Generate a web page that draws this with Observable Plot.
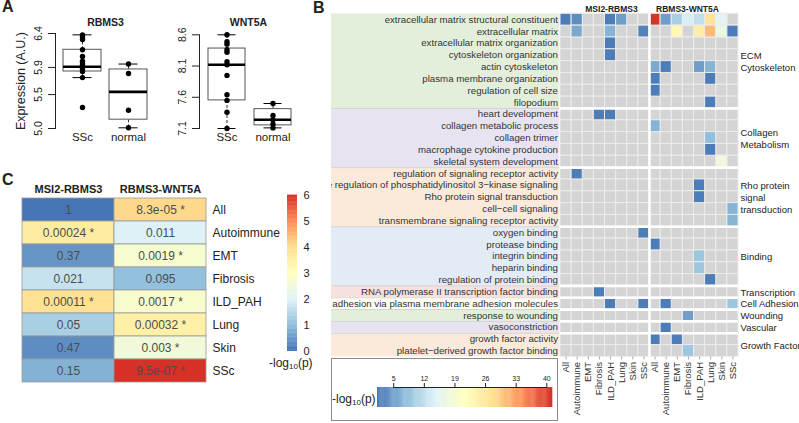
<!DOCTYPE html>
<html><head><meta charset="utf-8">
<script src="https://cdn.jsdelivr.net/npm/d3@7"></script>
<script src="https://cdn.jsdelivr.net/npm/@observablehq/plot@0.6"></script>
<style>
html,body{margin:0;padding:0;background:#fff;}
#fig{position:relative;width:799px;height:423px;overflow:hidden;background:#fff;font-family:"Liberation Sans",Arial,Helvetica,sans-serif;color:#222;}
.letter{position:absolute;font-weight:bold;font-size:16px;line-height:1;}
.lab{position:absolute;font-size:12px;line-height:1;white-space:nowrap;color:#222;}
.lab sub{font-size:8px;vertical-align:baseline;position:relative;top:2px;}
.lbox{position:absolute;outline:1px solid #8a8a8a;outline-offset:-1px;background:#fff;}
</style></head><body><div id="fig"></div>
<script>
// ---------------- Panel A data ----------------
const boxGroups = ["SSc", "normal"];
const rbms3SSc = [6.38, 6.35, 6.31, 6.16, 6.06, 5.99, 5.95, 5.92, 5.88, 5.84, 5.75, 5.31];
const rbms3Normal = [5.95, 5.81, 5.27, 5.01];
const rbms3Lo = [5.75, 5.01], rbms3Q1 = [5.84, 5.13], rbms3Med = [5.91, 5.54], rbms3Q3 = [6.16, 5.87], rbms3Hi = [6.38, 5.95];
const rbms3Ticks = [5.0, 5.5, 5.9, 6.4];
const wnt5aSSc = [8.60, 8.49, 8.45, 8.36, 8.32, 8.17, 8.12, 7.95, 7.64, 7.55, 7.36, 7.10];
const wnt5aNormal = [7.50, 7.31, 7.24, 7.17, 7.11];
const wnt5aLo = [7.10, 7.11], wnt5aQ1 = [7.55, 7.15], wnt5aMed = [8.12, 7.24], wnt5aQ3 = [8.38, 7.41], wnt5aHi = [8.60, 7.50];
const wnt5aTicks = [7.1, 7.6, 8.1, 8.6];
const yTitleA = "Expression (A.U.)";

// ---------------- Panel C data ----------------
const cRows = ["All", "Autoimmune", "EMT", "Fibrosis", "ILD_PAH", "Lung", "Skin", "SSc"];
const cPairs = ["MSI2-RBMS3", "RBMS3-WNT5A"];
const pMSI2RBMS3 = [1, 0.00024, 0.37, 0.021, 0.00011, 0.05, 0.47, 0.15];
const pRBMS3WNT5A = [8.3e-05, 0.011, 0.0019, 0.095, 0.0017, 0.00032, 0.003, 9.5e-07];
const sigCutoff = 0.01;
const cLegendTicks = [0, 1, 2, 3, 4, 5, 6];

// ---------------- Panel B data ----------------
const bCols = ["All", "Autoimmune", "EMT", "Fibrosis", "ILD_PAH", "Lung", "Skin", "SSc"];
const bBlocks = ["MSI2-RBMS3", "RBMS3-WNT5A"];
const bRows = [
  "extracellular matrix structural constituent", "extracellular matrix", "extracellular matrix organization",
  "cytoskeleton organization", "actin cytoskeleton", "plasma membrane organization", "regulation of cell size", "filopodium",
  "heart development", "collagen metabolic process", "collagen trimer", "macrophage cytokine production", "skeletal system development",
  "regulation of signaling receptor activity", "positive regulation of phosphatidylinositol 3\u2212kinase signaling",
  "Rho protein signal transduction", "cell\u2212cell signaling", "transmembrane signaling receptor activity",
  "oxygen binding", "protease binding", "integrin binding", "heparin binding", "regulation of protein binding",
  "RNA polymerase II transcription factor binding",
  "cell\u2212cell adhesion via plasma membrane adhesion molecules",
  "response to wounding",
  "vasoconstriction",
  "growth factor activity", "platelet\u2212derived growth factor binding"
];
const bGroups = ["ECM\nCytoskeleton", "Collagen\nMetabolism", "Rho protein\nsignal\ntransduction", "Binding",
  "Transcription", "Cell Adhesion", "Wounding", "Vascular", "Growth Factor"];
const bGroupSizes = [8, 5, 5, 5, 1, 1, 1, 1, 2];
const _ = null;
// -log10(p) per GO term (rows) x dataset (columns); null = not significant
const bMSI2RBMS3 = [
  [2, 3.5, _, _, 2, 5, _, _],
  [_, 6, _, _, 7, _, _, 2.5],
  [_, _, _, _, 2, _, _, _],
  [_, _, _, _, 2, _, _, _],
  [_, _, _, _, _, _, _, _],
  [_, _, _, _, _, _, _, _],
  [_, _, _, _, _, _, _, _],
  [_, _, _, _, _, _, _, _],
  [_, _, _, 2, 2, _, _, _],
  [_, _, _, _, _, _, _, _],
  [_, _, _, _, _, _, _, _],
  [_, _, _, _, _, _, _, _],
  [_, _, _, _, _, _, _, _],
  [_, 2, _, _, _, _, _, _],
  [_, _, _, _, _, _, _, _],
  [_, _, _, _, _, _, _, _],
  [_, _, _, _, _, _, _, _],
  [_, _, _, _, _, _, _, _],
  [_, _, _, _, _, _, _, 2],
  [_, _, _, _, _, _, _, _],
  [_, _, _, _, _, _, _, _],
  [_, _, _, _, _, _, _, _],
  [_, _, _, _, _, _, _, _],
  [_, _, _, 2, _, _, _, _],
  [_, _, _, _, 2, _, _, 2],
  [_, _, _, _, _, _, _, _],
  [_, _, _, _, _, _, _, _],
  [_, _, _, _, _, _, _, _],
  [_, _, _, _, _, _, _, _]
];
const bRBMS3WNT5A = [
  [41, 5, 10, 14, 12, 27, 15, _],
  [_, _, 23, _, 25, 31, 17, 2],
  [_, _, _, _, _, _, _, _],
  [_, _, _, _, _, _, _, _],
  [6, 2, _, _, 5, 7, _, _],
  [2, _, _, _, _, 2, _, _],
  [2, _, _, _, _, _, _, _],
  [_, _, _, _, _, 2, _, _],
  [_, _, _, _, _, _, _, _],
  [7, _, _, _, _, _, _, _],
  [_, _, _, _, _, 8, _, _],
  [_, _, _, _, _, 2, _, _],
  [_, _, _, _, _, _, 18, _],
  [_, _, _, _, _, _, _, _],
  [_, _, _, _, 2, _, _, _],
  [_, _, _, _, 2, _, _, _],
  [_, _, _, _, _, _, _, 7],
  [_, _, _, _, _, _, _, 7],
  [_, _, _, _, _, _, _, _],
  [2, _, _, _, _, _, _, _],
  [_, _, _, _, 9, _, _, _],
  [_, _, _, _, 9, _, _, _],
  [_, _, _, _, _, 2, _, _],
  [_, _, _, _, _, _, _, _],
  [_, 2, _, _, _, _, _, 9],
  [_, _, _, 5, _, _, _, _],
  [_, 2, _, _, _, _, _, _],
  [2, _, 2, _, _, _, _, _],
  [_, _, _, 9, _, _, _, _]
];
const bLegendMin = 1.3, bLegendMax = 41.3;
const bLegendTicks = [5, 12, 19, 26, 33, 40];

// ---------------- styles ----------------
const FONT = '"Liberation Sans", Arial, Helvetica, sans-serif';
const heatColors = ["#4575b4", "#91bfdb", "#e0f3f8", "#ffffbf", "#fee090", "#fc8d59", "#d73027"];
const groupPalette = ["#e3efdb", "#e8e3f1", "#fbe9da", "#e3ecf6", "#f8e0de", "#fdfdf2", "#e3efdb", "#e8e3f1", "#fbe9da"];
const fig = document.getElementById("fig");
function place(el, left, top) {
  el.style.position = "absolute"; el.style.left = left + "px"; el.style.top = top + "px";
  fig.appendChild(el); return el;
}
const baseStyle = {fontFamily: FONT, background: "none", color: "#222", overflow: "hidden"};

// ---------------- Panel A ----------------
function boxPanel(o) {
  const stats = boxGroups.map((g, i) => ({g, lo: o.lo[i], q1: o.q1[i], med: o.med[i], q3: o.q3[i], hi: o.hi[i]}));
  const pts = [...o.ssc.map(v => ({g: boxGroups[0], v})), ...o.normal.map(v => ({g: boxGroups[1], v}))];
  const bw = 38;
  const marks = [
    Plot.frame({anchor: "left", stroke: "#222"}),
    Plot.axisY(o.ticks, {tickSize: 7, tickRotate: -90, tickPadding: 7, fontSize: 10.5, tickFormat: d => d.toFixed(1), stroke: "#222"}),
    Plot.axisX({tickSize: 0, tickPadding: 4, fontSize: 11.5}),
    Plot.ruleX(stats, {x: "g", y1: "q3", y2: "hi", stroke: "#333", strokeDasharray: "3,2"}),
    Plot.ruleX(stats, {x: "g", y1: "lo", y2: "q1", stroke: "#333", strokeDasharray: "3,2"}),
    Plot.barY(stats, {x: "g", y1: "q1", y2: "q3", fill: "white", stroke: "#555", inset: 0}),
    Plot.tickY(stats, {x: "g", y: "med", stroke: "black", strokeWidth: 2.6}),
    Plot.tickY(stats, {x: "g", y: "hi", stroke: "black", insetLeft: bw / 4, insetRight: bw / 4}),
    Plot.tickY(stats, {x: "g", y: "lo", stroke: "black", insetLeft: bw / 4, insetRight: bw / 4}),
    Plot.dot(pts, {x: "g", y: "v", r: 2.7, fill: "black"}),
    Plot.text([o.title], {frameAnchor: "top", dy: o.titleDy, fontWeight: "bold", fontSize: 10.5})
  ];
  if (o.ytitle) marks.push(Plot.text([o.ytitle], {frameAnchor: "left", dx: -35, rotate: -90, textAnchor: "middle", fontSize: 12.5}));
  return Plot.plot({
    width: 160, height: 150,
    marginLeft: o.ml, marginRight: o.mr, marginTop: o.mt, marginBottom: 22,
    style: baseStyle,
    x: {type: "band", domain: boxGroups, range: o.band, paddingInner: o.pad, paddingOuter: 0, label: null},
    y: {domain: [o.ticks[0], o.ticks[o.ticks.length - 1]], label: null},
    marks
  });
}
place(boxPanel({title: "RBMS3", ssc: rbms3SSc, normal: rbms3Normal, lo: rbms3Lo, q1: rbms3Q1, med: rbms3Med, q3: rbms3Q3, hi: rbms3Hi,
  ticks: rbms3Ticks, ml: 55, mr: 5, mt: 33, titleDy: -15, band: [63, 147.5], pad: 0.183, ytitle: yTitleA}), 0, 0);
place(boxPanel({title: "WNT5A", ssc: wnt5aSSc, normal: wnt5aNormal, lo: wnt5aLo, q1: wnt5aQ1, med: wnt5aMed, q3: wnt5aQ3, hi: wnt5aHi,
  ticks: wnt5aTicks, ml: 39, mr: 23, mt: 34.3, titleDy: -16, band: [47, 132], pad: 0.19}), 160, 0);

// ---------------- Panel C ----------------
function fmtP(p) {
  let s = p >= 1e-4 ? String(p) : p.toExponential(1).replace(/e([+-])(\d)$/, (m, sg, d) => "e" + sg + "0" + d);
  return p < sigCutoff ? s + " *" : s;
}
const cColor = {type: "linear", domain: cLegendTicks, range: heatColors, interpolate: "rgb", clamp: true};
const cTable = cRows.flatMap((r, i) => [
  {pair: cPairs[0], row: r, p: pMSI2RBMS3[i]},
  {pair: cPairs[1], row: r, p: pRBMS3WNT5A[i]}
]);
place(Plot.plot({
  width: 330, height: 248, marginTop: 20, marginBottom: 38, marginLeft: 21, marginRight: 124,
  style: baseStyle,
  x: {domain: cPairs, padding: 0, label: null},
  y: {domain: cRows, padding: 0, label: null},
  color: cColor,
  marks: [
    Plot.cell(cTable, {x: "pair", y: "row", fill: d => -Math.log10(d.p), stroke: "#999", strokeWidth: 0.8, inset: 0}),
    Plot.text(cTable, {x: "pair", y: "row", text: d => fmtP(d.p), fill: "#4d4d4d", fontSize: 12}),
    Plot.axisX({anchor: "top", tickSize: 0, tickPadding: 3, fontSize: 11, fontWeight: "bold"}),
    Plot.axisY({anchor: "right", tickSize: 0, tickPadding: 6, fontSize: 12})
  ]
}), 0, 175);
const cStep = 0.05;
place(Plot.plot({
  width: 40, height: 200, marginLeft: 7, marginRight: 23, marginTop: 10, marginBottom: 34,
  style: baseStyle,
  x: {domain: [0, 1], axis: null, label: null},
  y: {domain: [cLegendTicks[0], cLegendTicks[cLegendTicks.length - 1]], label: null},
  color: cColor,
  marks: [
    Plot.rect(d3.range(cLegendTicks[0], cLegendTicks[cLegendTicks.length - 1], cStep), {x1: 0, x2: 1, y1: d => d, y2: d => d + cStep * 1.3, fill: d => d + cStep / 2, inset: 0}),
    Plot.axisY(cLegendTicks, {anchor: "right", tickSize: 0, tickPadding: 6, fontSize: 11})
  ]
}), 280, 185);
const cLab = document.createElement("div");
cLab.className = "lab"; cLab.innerHTML = "-log<sub>10</sub>(p)";
place(cLab, 269, 357);

// ---------------- Panel B ----------------
const B_W = 468, B_H = 423;
const gridX1 = 407, gridX0 = 229, gridY0 = 13.3, gridY1 = 356.4;
const rowFont = 9.7;
const nB = bCols.length * bBlocks.length;
const cellW = (gridX1 - gridX0) / nB;
const xMin = -gridX0 / cellW;
const groupStarts = bGroupSizes.map((s, i) => d3.sum(bGroupSizes.slice(0, i)));
const groupTable = bGroups.map((g, i) => ({g, start: groupStarts[i], end: groupStarts[i] + bGroupSizes[i], fill: groupPalette[i]}));
const boundaries = groupStarts.slice(1);
const bCells = [];
bRows.forEach((lab, r) => {
  for (let c = 0; c < bCols.length; c++) {
    bCells.push({r, c, v: bMSI2RBMS3[r][c]});
    bCells.push({r, c: c + bCols.length, v: bRBMS3WNT5A[r][c]});
  }
});
const bColor = {type: "linear", domain: d3.range(7).map(i => bLegendMin + i * (bLegendMax - bLegendMin) / 6), range: heatColors, interpolate: "rgb", clamp: true};
const blockCenters = bBlocks.map((b, k) => ({b, x: k * bCols.length + bCols.length / 2}));
place(Plot.plot({
  width: B_W, height: B_H, marginLeft: 0, marginRight: B_W - gridX1, marginTop: gridY0, marginBottom: B_H - gridY1,
  style: baseStyle,
  x: {domain: [xMin, nB], range: [0, gridX1], label: null},
  y: {domain: [0, bRows.length], range: [gridY0, gridY1], label: null},
  color: bColor,
  marks: [
    ...groupTable.map(g => Plot.rect([g], {x1: xMin, x2: -0.1, y1: "start", y2: "end", fill: g.fill})),
    Plot.ruleY(boundaries, {x1: xMin, x2: -0.1, stroke: "#cfcfcf", strokeWidth: 0.8}),
    Plot.text(bRows.map((t, i) => ({t, i})), {x: 0, y: d => d.i + 0.5, text: "t", textAnchor: "end", dx: -2.5,
      fontSize: rowFont, fill: "#333", clip: "frame"}),
    Plot.rect(bCells, {x1: "c", x2: d => d.c + 1, y1: "r", y2: d => d.r + 1, fill: "#d4d4d4", stroke: "#ebebeb", strokeWidth: 1}),
    Plot.rect(bCells.filter(d => d.v != null), {x1: "c", x2: d => d.c + 1, y1: "r", y2: d => d.r + 1, fill: "v", stroke: "#ebebeb", strokeWidth: 1}),
    Plot.ruleY(boundaries, {x1: 0, x2: nB, stroke: "white", strokeWidth: 2.6}),
    Plot.ruleX([bCols.length], {y1: 0, y2: bRows.length, stroke: "white", strokeWidth: 2.6}),
    Plot.text(groupTable, {x: nB, y: d => (d.start + d.end) / 2, text: "g", textAnchor: "start", dx: 2, fontSize: 9.5, lineHeight: 1.25, fill: "#222"}),
    Plot.text([blockCenters[0]], {x: "x", text: "b", frameAnchor: "top", dy: -8, dx: 6.5, fontWeight: "bold", fontSize: 8.5}),
    Plot.text([blockCenters[1]], {x: "x", text: "b", frameAnchor: "top", dy: -8, dx: -6.5, fontWeight: "bold", fontSize: 8.5}),
    Plot.axisX(d3.range(nB).map(i => i + 0.5), {tickFormat: d => bCols[Math.floor(d) % bCols.length], tickRotate: -90, tickSize: 3, tickPadding: 2, fontSize: 9.5, stroke: "#aaa", fill: "#333"})
  ]
}), 331, 0);

// legend box of panel B
const lbox = document.createElement("div");
lbox.className = "lbox"; lbox.style.width = "227px"; lbox.style.height = "63px";
place(lbox, 331, 358);
const bStep = 0.25;
const bLeg = Plot.plot({
  width: 227, height: 63, marginLeft: 46, marginRight: 6, marginTop: 29, marginBottom: 14,
  style: baseStyle,
  x: {domain: [bLegendMin, bLegendMax], label: null},
  y: {domain: [0, 1], axis: null, label: null},
  color: bColor,
  marks: [
    Plot.rect(d3.range(bLegendMin, bLegendMax, bStep), {x1: d => d, x2: d => d + bStep * 1.3, y1: 0, y2: 1, fill: d => d + bStep / 2, inset: 0}),
    Plot.ruleY([1], {x1: bLegendTicks[0], x2: bLegendTicks[bLegendTicks.length - 1], stroke: "#222"}),
    Plot.axisX(bLegendTicks, {anchor: "top", tickSize: 5, tickPadding: 2, fontSize: 7, stroke: "#222"})
  ]
});
bLeg.style.position = "absolute"; bLeg.style.left = "0px"; bLeg.style.top = "0px";
lbox.appendChild(bLeg);
const bLab = document.createElement("div");
bLab.className = "lab"; bLab.innerHTML = "-log<sub>10</sub>(p)";
place(bLab, 332, 393);

// panel letters
[["A", 2, -1], ["B", 313, 0], ["C", 2, 172]].forEach(([t, x, y]) => {
  const d = document.createElement("div"); d.className = "letter"; d.textContent = t; place(d, x, y);
});
</script></body></html>
